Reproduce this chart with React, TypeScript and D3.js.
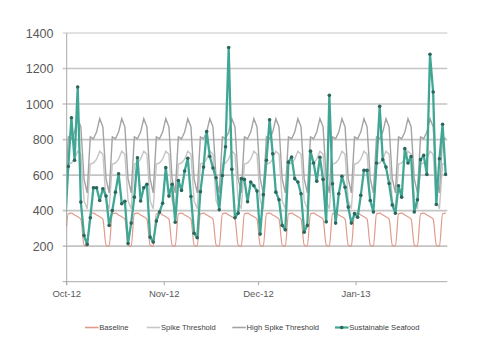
import React from "react";
import * as d3 from "d3";

// Daily series, first value = Sun 30 Sep 2012, last = Tue 29 Jan 2013
const START = new Date(2012, 8, 30);

const sustainableSeafood = [
  323,
  649, 923, 683, 1096, 448, 260, 210,
  360, 529, 529, 457, 523, 482, 317,
  401, 504, 608, 439, 453, 215, 330,
  476, 698, 454, 529, 548, 251, 223,
  341, 392, 442, 642, 482, 548, 335,
  570, 514, 623, 695, 480, 273, 247,
  507, 645, 845, 705, 640, 585, 405,
  598, 760, 1318, 633, 360, 386, 580,
  576, 450, 561, 540, 510, 268, 490,
  683, 912, 720, 504, 461, 317, 292,
  673, 701, 580, 561, 495, 279, 317,
  735, 668, 566, 700, 576, 337, 1049,
  551, 330, 495, 593, 532, 420, 330,
  383, 363, 486, 627, 627, 457, 392,
  668, 987, 687, 645, 553, 432, 385,
  540, 476, 749, 668, 705, 392, 461,
  687, 711, 604, 1280, 1068, 435, 692,
  886, 604,
];

const baseline = [
  200,
  382, 386, 376, 366, 352, 207, 200,
  382, 386, 376, 366, 352, 207, 200,
  382, 386, 376, 366, 352, 207, 200,
  382, 386, 376, 366, 352, 207, 200,
  382, 386, 376, 366, 352, 207, 200,
  382, 386, 376, 366, 352, 207, 200,
  382, 386, 376, 366, 352, 207, 200,
  382, 386, 376, 366, 352, 207, 200,
  382, 386, 376, 366, 352, 207, 200,
  382, 386, 376, 366, 352, 207, 200,
  382, 386, 376, 366, 352, 207, 200,
  382, 386, 376, 366, 352, 207, 200,
  382, 386, 376, 366, 352, 207, 200,
  382, 386, 376, 366, 352, 207, 200,
  382, 386, 376, 366, 352, 207, 200,
  382, 386, 376, 366, 352, 207, 200,
  382, 386, 376, 366, 352, 207, 200,
  382, 386,
];

const spikeThreshold = [
  410,
  662, 668, 690, 735, 718, 456, 410,
  662, 668, 690, 735, 718, 456, 410,
  662, 668, 690, 735, 718, 456, 410,
  662, 668, 690, 735, 718, 456, 410,
  662, 668, 690, 735, 718, 456, 410,
  662, 668, 690, 735, 718, 456, 410,
  662, 668, 690, 735, 718, 456, 410,
  662, 668, 690, 735, 718, 456, 410,
  662, 668, 690, 735, 718, 456, 410,
  662, 668, 690, 735, 718, 456, 410,
  662, 668, 690, 735, 718, 456, 410,
  662, 668, 690, 735, 718, 456, 410,
  662, 668, 690, 735, 718, 456, 410,
  662, 668, 690, 735, 718, 456, 410,
  662, 668, 690, 735, 718, 456, 410,
  662, 668, 690, 735, 718, 456, 410,
  662, 668, 690, 735, 718, 456, 410,
  662, 668,
];

const highSpikeThreshold = [
  500,
  815, 805, 842, 918, 872, 580, 500,
  815, 805, 842, 918, 872, 580, 500,
  815, 805, 842, 918, 872, 580, 500,
  815, 805, 842, 918, 872, 580, 500,
  815, 805, 842, 918, 872, 580, 500,
  815, 805, 842, 918, 872, 580, 500,
  815, 805, 842, 918, 872, 580, 500,
  815, 805, 842, 918, 872, 580, 500,
  815, 805, 842, 918, 872, 580, 500,
  815, 805, 842, 918, 872, 580, 500,
  815, 805, 842, 918, 872, 580, 500,
  815, 805, 842, 918, 872, 580, 500,
  815, 805, 842, 918, 872, 580, 500,
  815, 805, 842, 918, 872, 580, 500,
  815, 805, 842, 918, 872, 580, 500,
  815, 805, 842, 918, 872, 580, 500,
  815, 805, 842, 918, 872, 580, 500,
  815, 805,
];

const yTicks = [200, 400, 600, 800, 1000, 1200, 1400];
const xTickLabels = ["Oct-12", "Nov-12", "Dec-12", "Jan-13"];
const legendLabels = ["Baseline", "Spike Threshold", "High Spike Threshold", "Sustainable Seafood"];

const COLORS = {
  baseline: "#e09a8b",
  spike: "#c6c6c6",
  high: "#a3a3a3",
  teal: "#41a795",
  marker: "#2d665c",
  grid: "#c4c4c4",
  axis: "#a9a9a9",
  text: "#595959",
};

export default function App() {
  const left = 66.7;
  const right = 447.3;
  const top = 33;
  const bottom = 281.7;

  const x = d3
    .scaleTime()
    .domain([new Date(2012, 9, 1), new Date(2013, 0, 30)])
    .range([left, right]);
  const y = d3.scaleLinear().domain([0, 1400]).range([bottom, top]);

  const dates = sustainableSeafood.map((_, i) => d3.timeHour.offset(d3.timeDay.offset(START, i), 12));
  const px = (i: number) => x(dates[i]);

  const mk = (vals: number[], curve: d3.CurveFactory) =>
    d3
      .line<number>()
      .x((_, i) => px(i))
      .y((v) => y(v))
      .curve(curve)(vals) || "";

  const monthTicks = x.ticks(d3.timeMonth.every(1)!).filter((d) => d >= x.domain()[0] && d < x.domain()[1]);
  const fmt = d3.timeFormat("%b-%y");

  const font = "'Liberation Sans', Arial, sans-serif";

  const legendItems = [
    { label: legendLabels[0], color: COLORS.baseline, x1: 85, w: 1.6, marker: false },
    { label: legendLabels[1], color: COLORS.spike, x1: 146.7, w: 1.6, marker: false },
    { label: legendLabels[2], color: COLORS.high, x1: 232.3, w: 1.6, marker: false },
    { label: legendLabels[3], color: COLORS.teal, x1: 335, w: 2.2, marker: true },
  ];
  const ly = 327.5;

  return (
    <svg
      width={480}
      height={360}
      style={{ position: "absolute", left: 0, top: 0, background: "#fff" }}
      fontFamily={font}
    >
      <defs>
        <clipPath id="plotclip">
          <rect x={left} y={10} width={right - left} height={bottom - 10 + 2} />
        </clipPath>
      </defs>

      {/* gridlines */}
      {yTicks.map((t) => (
        <line
          key={t}
          x1={left - 4}
          x2={right}
          y1={y(t)}
          y2={y(t)}
          stroke={COLORS.grid}
          strokeWidth={t === 1400 ? 1 : 1.6}
        />
      ))}
      {/* y labels */}
      {yTicks.map((t) => (
        <text
          key={"l" + t}
          x={53.5}
          y={y(t)}
          dy="0.36em"
          textAnchor="end"
          fontSize={12.5}
          fill={COLORS.text}
        >
          {t}
        </text>
      ))}

      {/* axes */}
      <line x1={left} x2={left} y1={top} y2={bottom + 3} stroke={COLORS.axis} strokeWidth={1} />
      <line x1={left - 4} x2={right} y1={bottom} y2={bottom} stroke={COLORS.axis} strokeWidth={1} />
      {monthTicks.map((d, i) => (
        <g key={i}>
          <line x1={x(d)} x2={x(d)} y1={bottom} y2={bottom + 3.5} stroke={COLORS.axis} />
          <text x={x(d)} y={297} textAnchor="middle" fontSize={9.5} fill={COLORS.text}>
            {xTickLabels[i] ?? fmt(d)}
          </text>
        </g>
      ))}

      {/* series */}
      <g clipPath="url(#plotclip)">
        <path d={mk(baseline, d3.curveMonotoneX)} fill="none" stroke={COLORS.baseline} strokeWidth={1.2} />
        <path d={mk(spikeThreshold, d3.curveLinear)} fill="none" stroke={COLORS.spike} strokeWidth={1.4} />
        <path d={mk(highSpikeThreshold, d3.curveLinear)} fill="none" stroke={COLORS.high} strokeWidth={1.4} />
        <path
          d={mk(sustainableSeafood, d3.curveLinear)}
          fill="none"
          stroke={COLORS.teal}
          strokeWidth={2.3}
          strokeLinejoin="round"
        />
        {sustainableSeafood.map((v, i) => (
          <circle key={i} cx={px(i)} cy={y(v)} r={1.8} fill={COLORS.marker} />
        ))}
      </g>

      {/* legend */}
      {legendItems.map((it, i) => (
        <g key={i}>
          <line x1={it.x1} x2={it.x1 + 13.5} y1={ly} y2={ly} stroke={it.color} strokeWidth={it.w} />
          {it.marker && <circle cx={it.x1 + 6.7} cy={ly} r={1.8} fill={COLORS.marker} />}
          <text x={it.x1 + 14.3} y={ly} dy="0.35em" fontSize={7.6} fill="#404040">
            {it.label}
          </text>
        </g>
      ))}
    </svg>
  );
}
